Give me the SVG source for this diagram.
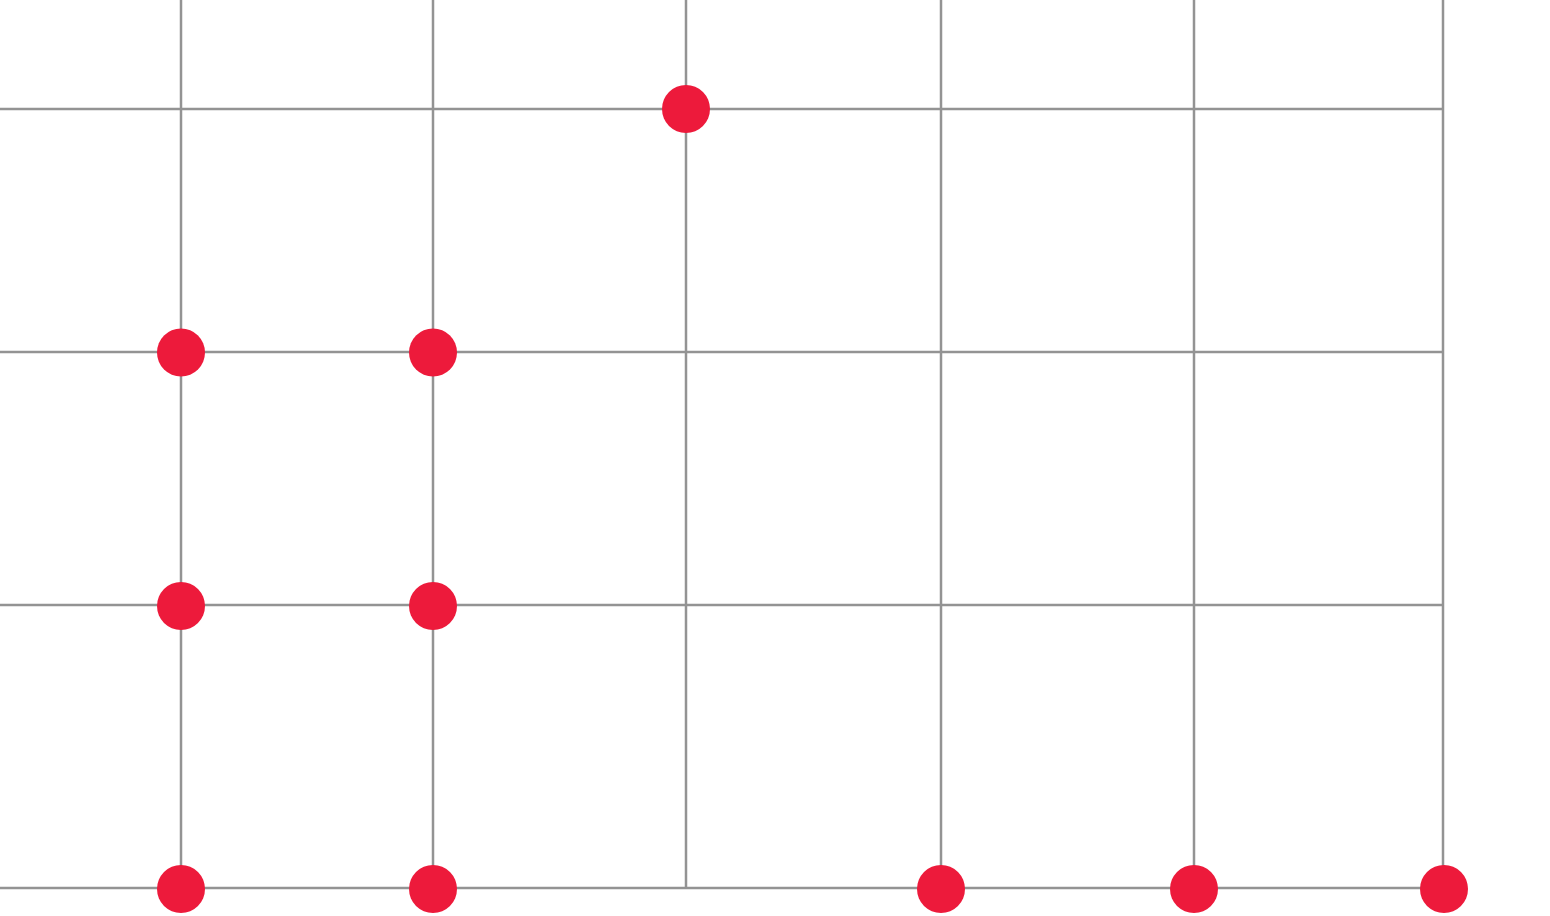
<svg xmlns="http://www.w3.org/2000/svg" width="1550" height="916" viewBox="0 0 1550 916">
<style>
.g{stroke:#939393;stroke-width:2.5;fill:none}
.d{fill:#ED1A3B}
</style>
<rect width="1550" height="916" fill="#ffffff"/>
<g id="connectors">
<line class="g" x1="181" y1="0" x2="181" y2="888"/>
<line class="g" x1="433" y1="0" x2="433" y2="888"/>
<line class="g" x1="686" y1="0" x2="686" y2="888"/>
<line class="g" x1="941" y1="0" x2="941" y2="888"/>
<line class="g" x1="1194" y1="0" x2="1194" y2="888"/>
<line class="g" x1="1443" y1="0" x2="1443" y2="888"/>
<line class="g" x1="0" y1="109" x2="1443" y2="109"/>
<line class="g" x1="0" y1="352" x2="1443" y2="352"/>
<line class="g" x1="0" y1="605" x2="1443" y2="605"/>
<line class="g" x1="0" y1="888" x2="1443" y2="888"/>
</g>
<g id="n1"><circle class="d" cx="686" cy="109" r="24"/></g>
<g id="n2"><circle class="d" cx="181" cy="352.5" r="24"/></g>
<g id="n3"><circle class="d" cx="433" cy="352.5" r="24"/></g>
<g id="n4"><circle class="d" cx="181" cy="606" r="24"/></g>
<g id="n5"><circle class="d" cx="433" cy="606" r="24"/></g>
<g id="n6"><circle class="d" cx="181" cy="889" r="24"/></g>
<g id="n7"><circle class="d" cx="433" cy="889" r="24"/></g>
<g id="n8"><circle class="d" cx="941" cy="889" r="24"/></g>
<g id="n9"><circle class="d" cx="1194" cy="889" r="24"/></g>
<g id="n10"><circle class="d" cx="1444" cy="889" r="24"/></g>
</svg>
